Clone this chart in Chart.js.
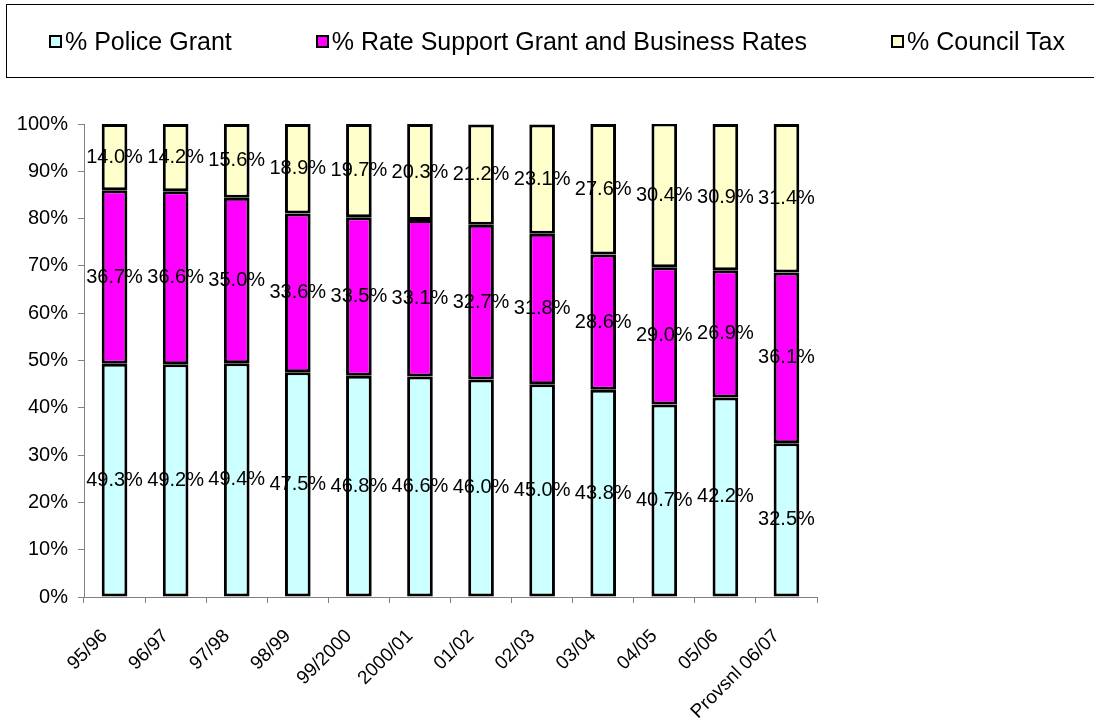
<!DOCTYPE html>
<html>
<head>
<meta charset="utf-8">
<script src="https://cdn.jsdelivr.net/npm/chart.js@4.4.1/dist/chart.umd.min.js"></script>
<style>
  html, body { margin: 0; padding: 0; background: #fff; overflow: hidden; }
  #wrap { position: relative; width: 1094px; height: 724px; }
  #legend {
    position: absolute; left: 6px; top: 4px; width: 1100px; height: 74px;
    box-sizing: border-box; border: 1px solid #000;
    display: flex; align-items: center; padding-left: 42px; gap: 84px;
    font: 25px "Liberation Sans", Arial, sans-serif; color: #000;
  }
  .legend-item { display: flex; align-items: center; white-space: nowrap; }
  .legend-box { width: 9px; height: 9px; border: 2px solid #000; margin-right: 3px; }
  #chart-box { position: absolute; left: 0; top: 0; width: 1094px; height: 724px; }
</style>
</head>
<body>
<div id="wrap">
  <div id="chart-box"><canvas id="chart"></canvas></div>
  <div id="legend"></div>
</div>
<script>
"use strict";

const years = ["95/96", "96/97", "97/98", "98/99", "99/2000", "2000/01", "01/02", "02/03", "03/04", "04/05", "05/06", "Provsnl 06/07"];
const policeGrant = [49.3, 49.2, 49.4, 47.5, 46.8, 46.6, 46.0, 45.0, 43.8, 40.7, 42.2, 32.5];
const rateSupport = [36.7, 36.6, 35.0, 33.6, 33.5, 33.1, 32.7, 31.8, 28.6, 29.0, 26.9, 36.1];
const councilTax = [14.0, 14.2, 15.6, 18.9, 19.7, 20.3, 21.2, 23.1, 27.6, 30.4, 30.9, 31.4];
const yTicks = [0, 10, 20, 30, 40, 50, 60, 70, 80, 90, 100];

const FONT = '"Liberation Sans", Arial, sans-serif';
const AXIS_GREY = "#808080";

// value labels centred in each stacked segment
const valueLabels = {
  id: "valueLabels",
  afterDatasetsDraw(chart) {
    const ctx = chart.ctx;
    ctx.save();
    ctx.font = `20px ${FONT}`;
    ctx.fillStyle = "#000";
    ctx.textAlign = "center";
    ctx.textBaseline = "middle";
    chart.data.datasets.forEach((dataset, i) => {
      chart.getDatasetMeta(i).data.forEach((bar, j) => {
        const { x, y, base } = bar.getProps(["x", "y", "base"], true);
        ctx.fillText(`${dataset.data[j].toFixed(1)}%`, x, (y + base) / 2);
      });
    });
    ctx.restore();
  },
};

const htmlLegend = {
  id: "htmlLegend",
  afterUpdate(chart) {
    const box = document.getElementById("legend");
    box.replaceChildren(...chart.data.datasets.map((dataset) => {
      const item = document.createElement("div");
      item.className = "legend-item";
      const swatch = document.createElement("span");
      swatch.className = "legend-box";
      swatch.style.background = dataset.backgroundColor;
      const label = document.createElement("span");
      label.textContent = dataset.label;
      item.append(swatch, label);
      return item;
    }));
  },
};

function makeDataset(label, data, color) {
  return {
    label,
    data,
    backgroundColor: color,
    borderColor: "#000",
    borderWidth: 3,
    borderSkipped: false,
    barPercentage: 0.42,
    categoryPercentage: 1,
  };
}

new Chart(document.getElementById("chart"), {
  type: "bar",
  data: {
    labels: years,
    datasets: [
      makeDataset("% Police Grant", policeGrant, "#CCFFFF"),
      makeDataset("% Rate Support Grant and Business Rates", rateSupport, "#FF00FF"),
      makeDataset("% Council Tax", councilTax, "#FFFFCC"),
    ],
  },
  options: {
    responsive: true,
    maintainAspectRatio: false,
    animation: false,
    layout: { padding: { left: 0, top: 124, right: 277, bottom: 0 } },
    plugins: {
      legend: { display: false },
      tooltip: { enabled: false },
    },
    scales: {
      x: {
        stacked: true,
        afterFit: (scale) => { scale.height = 127; },
        border: { color: AXIS_GREY, width: 1 },
        grid: { drawOnChartArea: false, color: AXIS_GREY, tickLength: 6, offset: true },
        ticks: {
          color: "#000",
          font: { family: FONT, size: 19 },
          minRotation: 45,
          maxRotation: 45,
          autoSkip: false,
          padding: 22,
          labelOffset: -10,
        },
      },
      y: {
        stacked: true,
        min: 0,
        max: 100,
        afterFit: (scale) => { scale.width = 84; },
        afterBuildTicks: (scale) => { scale.ticks = yTicks.map((value) => ({ value })); },
        border: { color: AXIS_GREY, width: 1 },
        grid: { drawOnChartArea: false, color: AXIS_GREY, tickLength: 6 },
        ticks: {
          color: "#000",
          font: { family: FONT, size: 20 },
          padding: 10,
          callback: (value) => `${value}%`,
        },
      },
    },
  },
  plugins: [valueLabels, htmlLegend],
});
</script>
</body>
</html>
